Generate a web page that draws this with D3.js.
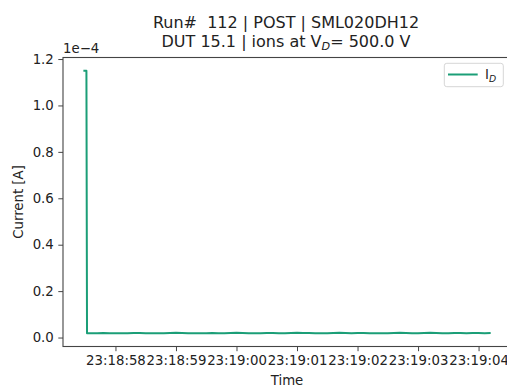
<!DOCTYPE html>
<html>
<head>
<meta charset="utf-8">
<script src="https://cdn.jsdelivr.net/npm/d3@7"></script>
<style>
  body { margin: 0; background: #fff; }
  svg { display: block; font-family: "DejaVu Sans", sans-serif; }
</style>
</head>
<body>
<svg id="plot" width="507" height="390"></svg>
<script>
// seconds after 23:18:00
let timeSec = [
  57.47, 57.52, 57.53,
  57.6, 57.7, 57.8, 57.9, 58.0, 58.1, 58.2, 58.3, 58.4, 58.5,
  58.6, 58.7, 58.8, 58.9, 59.0, 59.1, 59.2, 59.3, 59.4, 59.5,
  59.6, 59.7, 59.8, 59.9, 60.0, 60.1, 60.2, 60.3, 60.4, 60.5,
  60.6, 60.7, 60.8, 60.9, 61.0, 61.1, 61.2, 61.3, 61.4, 61.5,
  61.6, 61.7, 61.8, 61.9, 62.0, 62.1, 62.2, 62.3, 62.4, 62.5,
  62.6, 62.7, 62.8, 62.9, 63.0, 63.1, 63.2, 63.3, 63.4, 63.5,
  63.6, 63.7, 63.8, 63.9, 64.0, 64.1, 64.2
];
// drain current in uA
let currentUA = [
  115, 115,
  1.9, 1.8, 1.9, 2.0, 1.9, 1.8, 1.8, 1.9, 2.0, 2.0,
  1.9, 1.8, 1.9, 1.9, 2.0, 2.1, 2.0, 1.9, 1.9, 1.8,
  1.9, 2.0, 1.9, 1.9, 2.0, 2.1, 2.0, 1.9, 1.8, 1.9,
  2.0, 2.0, 1.9, 1.9, 2.0, 2.1, 2.0, 2.0, 1.9, 1.8,
  1.9, 2.0, 2.1, 2.0, 1.9, 2.0, 2.0, 1.9, 1.8, 1.8,
  1.9, 2.0, 2.1, 2.0, 1.9, 1.9, 2.0, 2.1, 2.0, 1.9,
  1.9, 2.0, 2.0, 1.9, 2.0, 2.0, 1.9, 2.0
];
let yTicks = [0, 0.2e-4, 0.4e-4, 0.6e-4, 0.8e-4, 1.0e-4, 1.2e-4];

let lineColor = "#1b9e77";
let textColor = "#222222";
let spineColor = "#444444";
let fontSize = 13.3;

let plotLeft = 63, plotRight = 511, plotTop = 57.5, plotBottom = 346.5;
let svg = d3.select("#plot");

let base = new Date(2000, 0, 1, 23, 18, 0);
let data = timeSec.map((s, i) => ({
  t: new Date(base.getTime() + s * 1000),
  v: currentUA[i] * 1e-6
}));

// matplotlib style 5% margins
let tExt = d3.extent(data, d => d.t.getTime());
let tPad = (tExt[1] - tExt[0]) * 0.05;
let vExt = d3.extent(data, d => d.v);
let vPad = (vExt[1] - vExt[0]) * 0.05;

let x = d3.scaleTime()
  .domain([new Date(tExt[0] - tPad), new Date(tExt[1] + tPad)])
  .range([plotLeft, plotRight]);
let y = d3.scaleLinear()
  .domain([vExt[0] - vPad, vExt[1] + vPad])
  .range([plotBottom, plotTop]);

// data line
let line = d3.line().x(d => x(d.t)).y(d => y(d.v));
svg.append("path")
  .datum(data)
  .attr("d", line)
  .attr("fill", "none")
  .attr("stroke", lineColor)
  .attr("stroke-width", 2)
  .attr("stroke-linejoin", "round");

// x axis
let xAxis = svg.append("g")
  .attr("transform", "translate(0," + plotBottom + ")")
  .call(d3.axisBottom(x)
    .ticks(d3.timeSecond.every(1))
    .tickFormat(d3.timeFormat("%H:%M:%S"))
    .tickSize(4.7)
    .tickPadding(4));
xAxis.select(".domain").remove();
xAxis.selectAll("line").attr("stroke", spineColor);
xAxis.selectAll("text")
  .attr("fill", textColor)
  .attr("font-size", fontSize)
  .attr("font-family", "DejaVu Sans");

// y axis
let yAxis = svg.append("g")
  .attr("transform", "translate(" + plotLeft + ",0)")
  .call(d3.axisLeft(y)
    .tickValues(yTicks)
    .tickFormat(d => (d / 1e-4).toFixed(1))
    .tickSize(4.7)
    .tickPadding(4.5));
yAxis.select(".domain").remove();
yAxis.selectAll("line").attr("stroke", spineColor);
yAxis.selectAll("text")
  .attr("fill", textColor)
  .attr("font-size", fontSize)
  .attr("font-family", "DejaVu Sans");

// frame
svg.append("rect")
  .attr("x", plotLeft)
  .attr("y", plotTop)
  .attr("width", plotRight - plotLeft)
  .attr("height", plotBottom - plotTop)
  .attr("fill", "none")
  .attr("stroke", spineColor)
  .attr("stroke-width", 1.1);

// offset text
svg.append("text")
  .attr("x", plotLeft)
  .attr("y", 53)
  .attr("fill", textColor)
  .attr("font-size", fontSize)
  .text("1e\u22124");

// axis labels
svg.append("text")
  .attr("x", (plotLeft + plotRight) / 2)
  .attr("y", 385)
  .attr("text-anchor", "middle")
  .attr("fill", textColor)
  .attr("font-size", fontSize)
  .text("Time");

svg.append("text")
  .attr("transform", "translate(23," + (plotTop + plotBottom) / 2 + ") rotate(-90)")
  .attr("text-anchor", "middle")
  .attr("fill", textColor)
  .attr("font-size", fontSize)
  .text("Current [A]");

// title
let cx = (plotLeft + plotRight) / 2 - 1;
svg.append("text")
  .attr("x", cx)
  .attr("y", 28.3)
  .attr("text-anchor", "middle")
  .attr("fill", textColor)
  .attr("font-size", 16)
  .style("white-space", "pre")
  .text("Run#  112 | POST | SML020DH12");

let t2 = svg.append("text")
  .attr("x", cx)
  .attr("y", 46.7)
  .attr("text-anchor", "middle")
  .attr("fill", textColor)
  .attr("font-size", 16);
t2.append("tspan").text("DUT 15.1 | ions at V");
t2.append("tspan").attr("dy", 3).attr("font-size", 11.2).attr("font-style", "italic").text("D");
t2.append("tspan").attr("dy", -3).text("= 500.0 V");

// legend
let lg = svg.append("g");
lg.append("rect")
  .attr("x", 444.3)
  .attr("y", 63.3)
  .attr("width", 59)
  .attr("height", 23.4)
  .attr("rx", 2.5)
  .attr("fill", "#fff")
  .attr("fill-opacity", 0.8)
  .attr("stroke", "#d6d6d6")
  .attr("stroke-width", 1);
lg.append("line")
  .attr("x1", 448)
  .attr("x2", 477.7)
  .attr("y1", 74.5)
  .attr("y2", 74.5)
  .attr("stroke", lineColor)
  .attr("stroke-width", 2);
let lt = lg.append("text")
  .attr("x", 485)
  .attr("y", 79)
  .attr("fill", textColor)
  .attr("font-size", fontSize);
lt.append("tspan").text("I");
lt.append("tspan").attr("dy", 2.5).attr("font-size", 9.3).attr("font-style", "italic").text("D");
</script>
</body>
</html>
